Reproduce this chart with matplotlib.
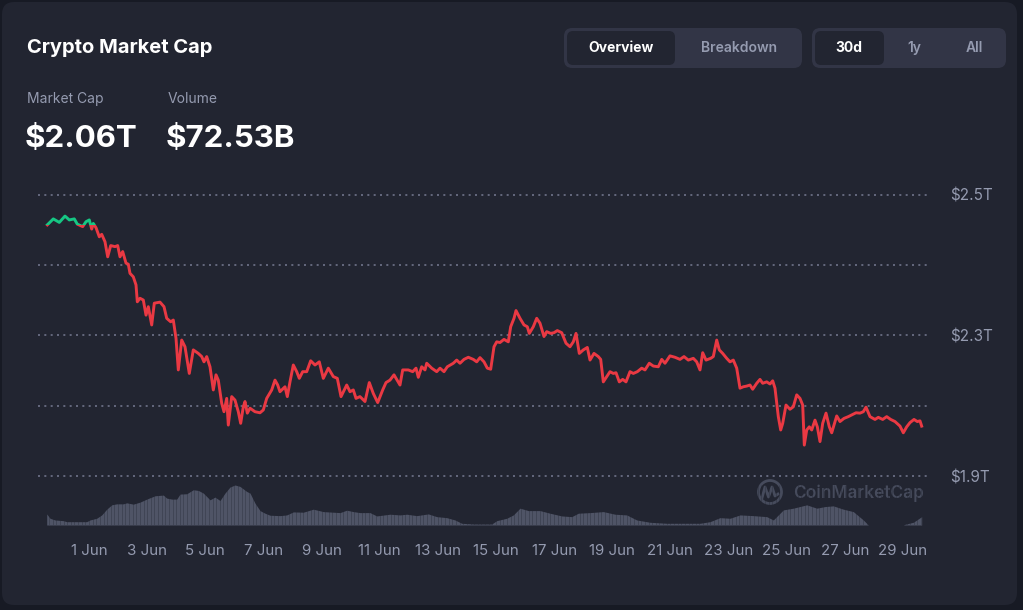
import matplotlib
matplotlib.use("Agg")
import matplotlib.pyplot as plt
from matplotlib.patches import FancyBboxPatch, Rectangle, Circle
from matplotlib.lines import Line2D
from matplotlib.transforms import IdentityTransform
import numpy as np

plt.rcParams['font.family'] = ['Inter', 'DejaVu Sans']

# market cap (trillion USD), x = days after 1 Jun 00:00
cap_days = [
    -1.434, -1.228, -1.022, -0.826, -0.678, -0.506, -0.402, -0.217, -0.103, 0.010,
    0.093, 0.148, 0.241, 0.354, 0.437, 0.550, 0.643, 0.746, 0.894, 0.987,
    1.066, 1.159, 1.273, 1.352, 1.410, 1.524, 1.617, 1.662, 1.754, 1.868,
    1.961, 2.040, 2.157, 2.246, 2.442, 2.580, 2.673, 2.810, 2.900, 2.993,
    3.072, 3.189, 3.302, 3.450, 3.588, 3.760, 3.877, 3.956, 4.049, 4.162,
    4.276, 4.369, 4.448, 4.565, 4.644, 4.737, 4.792, 4.909, 5.022, 5.136,
    5.218, 5.308, 5.366, 5.446, 5.538, 5.710, 5.882, 5.996, 6.113, 6.285,
    6.398, 6.491, 6.570, 6.742, 6.822, 6.914, 7.028, 7.145, 7.234, 7.351,
    7.489, 7.626, 7.774, 7.922, 8.060, 8.232, 8.404, 8.542, 8.669, 8.865,
    8.978, 9.092, 9.185, 9.322, 9.494, 9.642, 9.780, 9.931, 10.103, 10.217,
    10.354, 10.492, 10.698, 10.791, 10.984, 11.135, 11.249, 11.328, 11.445, 11.558,
    11.617, 11.789, 11.961, 12.074, 12.212, 12.326, 12.532, 12.649, 12.762, 12.900,
    13.048, 13.220, 13.337, 13.450, 13.588, 13.702, 13.818, 13.932, 14.025, 14.138,
    14.276, 14.424, 14.506, 14.620, 14.689, 14.826, 14.964, 15.078, 15.146, 15.284,
    15.401, 15.514, 15.652, 15.745, 15.882, 15.996, 16.110, 16.261, 16.409, 16.546,
    16.660, 16.753, 16.866, 17.004, 17.142, 17.234, 17.372, 17.520, 17.602, 17.692,
    17.809, 17.922, 18.036, 18.129, 18.242, 18.359, 18.473, 18.610, 18.724, 18.862,
    19.013, 19.126, 19.274, 19.412, 19.584, 19.701, 19.814, 19.986, 20.158, 20.330,
    20.468, 20.616, 20.788, 20.905, 21.018, 21.111, 21.225, 21.386, 21.476, 21.593,
    21.682, 21.799, 21.937, 22.050, 22.164, 22.281, 22.394, 22.508, 22.625, 22.738,
    22.831, 22.969, 23.082, 23.175, 23.313, 23.426, 23.519, 23.598, 23.712, 23.794,
    23.863, 23.977, 24.114, 24.228, 24.345, 24.458, 24.551, 24.606, 24.689, 24.778,
    24.861, 24.974, 25.054, 25.146, 25.239, 25.353, 25.466, 25.549, 25.721, 25.834,
    25.972, 26.120, 26.237, 26.385, 26.522, 26.636, 26.729, 26.866, 27.038, 27.152,
    27.303, 27.441, 27.578, 27.726, 27.898, 28.012, 28.129, 28.242, 28.380, 28.494,
    28.586, 28.644,
]
cap_values = [
    2.615, 2.632, 2.622, 2.640, 2.629, 2.632, 2.617, 2.610, 2.624, 2.629,
    2.603, 2.619, 2.607, 2.581, 2.588, 2.567, 2.524, 2.556, 2.553, 2.556,
    2.524, 2.539, 2.506, 2.503, 2.477, 2.467, 2.444, 2.396, 2.406, 2.401,
    2.358, 2.382, 2.330, 2.392, 2.395, 2.382, 2.349, 2.339, 2.344, 2.292,
    2.202, 2.287, 2.268, 2.192, 2.259, 2.249, 2.240, 2.225, 2.240, 2.211,
    2.145, 2.188, 2.173, 2.107, 2.083, 2.121, 2.045, 2.126, 2.116, 2.083,
    2.050, 2.097, 2.112, 2.079, 2.093, 2.083, 2.080, 2.088, 2.121, 2.145,
    2.173, 2.159, 2.140, 2.154, 2.126, 2.168, 2.216, 2.197, 2.178, 2.197,
    2.197, 2.228, 2.216, 2.225, 2.178, 2.207, 2.183, 2.178, 2.126, 2.159,
    2.140, 2.145, 2.121, 2.126, 2.112, 2.166, 2.135, 2.109, 2.145, 2.166,
    2.173, 2.188, 2.159, 2.202, 2.202, 2.197, 2.207, 2.181, 2.211, 2.202,
    2.221, 2.207, 2.197, 2.207, 2.197, 2.211, 2.221, 2.230, 2.221, 2.232,
    2.238, 2.232, 2.225, 2.237, 2.225, 2.207, 2.204, 2.268, 2.282, 2.280,
    2.289, 2.282, 2.325, 2.349, 2.371, 2.349, 2.330, 2.325, 2.306, 2.325,
    2.349, 2.335, 2.297, 2.311, 2.306, 2.308, 2.314, 2.308, 2.278, 2.268,
    2.282, 2.306, 2.249, 2.259, 2.266, 2.230, 2.249, 2.240, 2.232, 2.168,
    2.183, 2.197, 2.192, 2.194, 2.168, 2.175, 2.168, 2.197, 2.192, 2.197,
    2.207, 2.202, 2.221, 2.213, 2.211, 2.232, 2.221, 2.242, 2.238, 2.232,
    2.240, 2.230, 2.235, 2.225, 2.202, 2.251, 2.230, 2.235, 2.240, 2.287,
    2.259, 2.249, 2.235, 2.225, 2.230, 2.207, 2.150, 2.154, 2.156, 2.159,
    2.147, 2.164, 2.175, 2.164, 2.168, 2.162, 2.171, 2.150, 2.069, 2.031,
    2.050, 2.102, 2.090, 2.097, 2.131, 2.121, 2.102, 1.988, 2.031, 2.040,
    2.031, 2.059, 2.040, 1.998, 2.050, 2.079, 2.040, 2.023, 2.071, 2.055,
    2.064, 2.069, 2.074, 2.080, 2.079, 2.083, 2.096, 2.069, 2.061, 2.067,
    2.061, 2.069, 2.061, 2.055, 2.042, 2.023, 2.040, 2.052, 2.061, 2.055,
    2.057, 2.042,
]

# volume (billion USD)
vol_days = [
    -1.455, -1.342, -1.170, -0.884, -0.767, -0.079, 0.034, 0.265, 0.437, 0.609,
    0.781, 0.953, 1.180, 1.297, 1.524, 1.754, 1.985, 2.270, 2.556, 2.673,
    2.845, 3.017, 3.130, 3.361, 3.588, 3.760, 3.932, 4.162, 4.334, 4.506,
    4.678, 4.850, 5.022, 5.194, 5.425, 5.538, 5.710, 5.882, 6.054, 6.226,
    6.570, 6.801, 7.028, 7.372, 7.716, 8.060, 8.404, 8.634, 8.865, 9.092,
    9.322, 9.666, 9.897, 10.354, 10.698, 10.929, 11.273, 11.672, 11.961, 12.305,
    12.590, 12.821, 13.220, 13.853, 14.025, 14.369, 14.596, 14.826, 15.112, 15.514,
    15.858, 16.261, 16.605, 16.832, 17.234, 17.692, 18.094, 18.497, 18.841, 19.299,
    19.873, 20.561, 21.018, 21.362, 21.706, 22.050, 22.394, 22.852, 23.313, 23.540,
    23.884, 24.228, 24.689, 25.033, 25.318, 25.604, 25.948, 26.292, 26.636, 26.808,
    28.012, 28.070, 28.356, 28.644,
]
vol_values = [
    22.0, 13.4, 10.0, 8.6, 6.6, 6.6, 10.0, 13.4, 20.0, 31.4,
    40.0, 42.0, 42.0, 44.0, 41.4, 45.4, 51.4, 58.0, 59.4, 53.4,
    51.4, 51.4, 61.4, 62.0, 70.0, 68.6, 63.4, 50.0, 55.4, 48.6,
    63.4, 75.4, 79.4, 76.6, 66.6, 63.4, 43.4, 28.6, 23.4, 19.4,
    18.6, 20.0, 26.0, 25.4, 31.4, 26.6, 25.4, 24.6, 29.4, 26.6,
    24.6, 24.6, 18.0, 21.4, 20.0, 21.4, 18.6, 22.0, 16.6, 14.6,
    10.0, 3.4, 2.0, 2.0, 8.6, 13.4, 20.0, 33.4, 28.6, 28.6,
    23.4, 18.0, 16.6, 23.4, 24.6, 26.6, 21.4, 20.0, 10.0, 5.4,
    3.4, 3.4, 3.4, 6.6, 14.6, 13.4, 20.0, 18.6, 16.6, 10.0,
    30.0, 33.4, 40.0, 33.4, 36.6, 38.0, 31.4, 26.6, 10.0, 0.0,
    0.0, 1.4, 5.4, 16.6,
]

tick_days = list(range(0, 29, 2))
tick_labels = [f"{d + 1} Jun" for d in tick_days]
y_ticks = [1.9, 2.1, 2.3, 2.5, 2.7]
y_labels = ["$1.9T", "", "$2.3T", "", "$2.5T"]

W, H = 1023, 610
BG = "#171a24"
CARD = "#222531"
RED = "#ea3943"
GREEN = "#16c784"
GREY = "#959bb0"
VOL = "#4f5466"


def fx(px):
    return px / W


def fy(py):
    return 1 - py / H


fig = plt.figure(figsize=(W / 100, H / 100), dpi=100, facecolor=BG)

# card (behind the axes)
fig.patches.append(FancyBboxPatch((fx(2), fy(605)), fx(1015), 603 / H,
                                  boxstyle="round,pad=0,rounding_size=0.012",
                                  transform=fig.transFigure, facecolor=CARD,
                                  edgecolor="none", mutation_aspect=W / H,
                                  zorder=-5))

# header texts
fig.text(fx(27), fy(48), "Crypto Market Cap", color="white", fontsize=14.5,
         fontweight="bold", va="center", ha="left")
fig.text(fx(27), fy(99), "Market Cap", color=GREY, fontsize=10, va="center")
fig.text(fx(168), fy(99), "Volume", color=GREY, fontsize=10, va="center")
fig.text(fx(25), fy(139), "$2.06T", color="white", fontsize=22.5,
         fontweight="bold", va="center")
fig.text(fx(166), fy(139), "$72.53B", color="white", fontsize=22.5,
         fontweight="bold", va="center")


# toggle buttons
def pill(x0, y0, x1, y1, color, r=0.006):
    fig.patches.append(FancyBboxPatch((fx(x0), fy(y1)), fx(x1 - x0), (y1 - y0) / H,
                                      boxstyle=f"round,pad=0,rounding_size={r}",
                                      transform=fig.transFigure, facecolor=color,
                                      edgecolor="none", mutation_aspect=W / H,
                                      zorder=-4))


pill(564, 28, 802, 68, "#323546", 0.008)
pill(567, 31, 675, 65, CARD)
pill(812, 28, 1006, 68, "#323546", 0.008)
pill(815, 31, 884, 65, CARD)
fig.text(fx(621), fy(48), "Overview", color="white", fontsize=10,
         fontweight="bold", ha="center", va="center")
fig.text(fx(739), fy(48), "Breakdown", color=GREY, fontsize=10,
         fontweight="semibold", ha="center", va="center")
fig.text(fx(849), fy(48), "30d", color="white", fontsize=10,
         fontweight="bold", ha="center", va="center")
fig.text(fx(914), fy(48), "1y", color=GREY, fontsize=10,
         fontweight="semibold", ha="center", va="center")
fig.text(fx(974), fy(48), "All", color=GREY, fontsize=10,
         fontweight="semibold", ha="center", va="center")

# watermark, drawn in pixel units so the circle stays round
logo_col = "#464b5c"
fig.patches.append(Circle((770, H - 492), 11.5, transform=IdentityTransform(),
                          facecolor="none", edgecolor=logo_col, linewidth=2.0,
                          zorder=-3))
fig.lines.append(Line2D([762, 765, 768.5, 772, 775, 778],
                        [H - 498, H - 487, H - 497, H - 487, H - 496, H - 494],
                        transform=IdentityTransform(), color=logo_col,
                        linewidth=2.0, zorder=-3))
fig.text(fx(793), fy(493), "CoinMarketCap", color=logo_col, fontsize=12.5,
         fontweight="semibold", va="center", ha="left", zorder=-3)

# main price axes
px_per_day = 29.07
x0_day = (38 - 89) / px_per_day
x1_day = (928 - 89) / px_per_day
ax = fig.add_axes([fx(38), fy(480), fx(890), 290 / H])
ax.set_facecolor("none")
ax.set_xlim(x0_day, x1_day)
ax.set_ylim(1.9 - 4 / 351.25, 1.9 + 286 / 351.25)
for s in ax.spines.values():
    s.set_visible(False)
ax.set_xticks([])
ax.yaxis.tick_right()
ax.set_yticks(y_ticks)
ax.set_yticklabels(y_labels)
ax.tick_params(axis="y", length=0, pad=16, labelsize=11, labelcolor=GREY)
ax.grid(axis="y", color="#70748a", linestyle=(0, (1.2, 2.6)), linewidth=1.2)

base = cap_values[0]
red_line, = ax.plot(cap_days, cap_values, color=RED, linewidth=2.1,
                    solid_joinstyle="round")
green_line, = ax.plot(cap_days, cap_values, color=GREEN, linewidth=2.1,
                      solid_joinstyle="round")
above = Rectangle((x0_day, base), x1_day - x0_day, 5, transform=ax.transData)
below = Rectangle((x0_day, base - 5), x1_day - x0_day, 5, transform=ax.transData)
green_line.set_clip_path(above)
red_line.set_clip_path(below)

# volume axes
axv = fig.add_axes([fx(38), fy(525), fx(890), 40 / H])
axv.set_facecolor("none")
axv.set_xlim(x0_day, x1_day)
axv.set_ylim(0, max(vol_values))
for s in axv.spines.values():
    s.set_visible(False)
axv.fill_between(vol_days, vol_values, 0, color=VOL, linewidth=0)
# thin separators so the area reads as 3-hour bars
axv.vlines(np.arange(-1.5, 28.75, 0.125), 0, max(vol_values), color=CARD,
           linewidth=0.45, alpha=0.5)
axv.set_yticks([])
axv.set_xticks(tick_days)
axv.set_xticklabels(tick_labels)
axv.tick_params(axis="x", length=0, pad=14, labelsize=10.8, labelcolor=GREY)

fig.savefig("out.png", dpi=100, facecolor=BG)
